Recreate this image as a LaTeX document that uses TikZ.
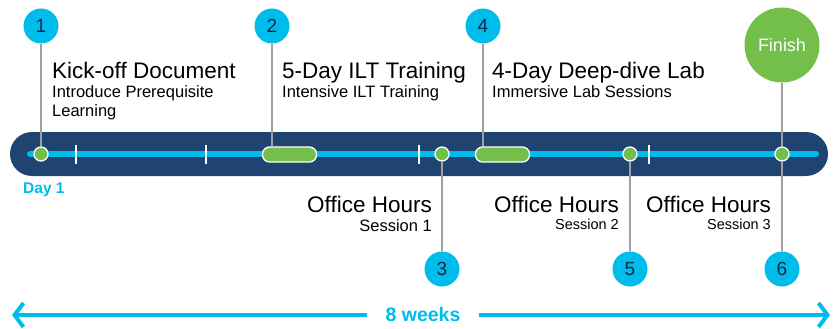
\documentclass[tikz,border=0pt]{standalone}
\usepackage{fontspec}
\setmainfont{Liberation Sans}
\usetikzlibrary{arrows.meta, positioning}
\definecolor{barnavy}{RGB}{31,68,113}
\definecolor{lightcyan}{RGB}{0,188,235}
\definecolor{okgreen}{RGB}{116,191,75}
\definecolor{numnavy}{RGB}{13,39,77}
\definecolor{linkgray}{RGB}{160,160,160}

\begin{document}
\begin{tikzpicture}[x=1pt, y=-1pt,
    num/.style={circle, fill=lightcyan, minimum size=35pt, inner sep=0pt,
        font=\fontsize{19}{19}\selectfont, text=numnavy},
    finish/.style={circle, fill=okgreen, minimum size=75pt, inner sep=0pt,
        font=\fontsize{18}{18}\selectfont, text=white},
    dot/.style={circle, fill=okgreen, draw=white, line width=1.3pt,
        minimum size=14pt, inner sep=0pt},
    pill/.style={rectangle, rounded corners=7pt, fill=okgreen, draw=white,
        line width=1.3pt, minimum width=54pt, minimum height=15pt, inner sep=0pt},
    link/.style={draw=linkgray, line width=1.4pt},
    tick/.style={draw=white, line width=1.5pt},
    title/.style={font=\fontsize{22.5}{26}\selectfont, inner sep=0pt},
    sub/.style={font=\fontsize{16.5}{20}\selectfont, inner sep=0pt},
    subsmall/.style={font=\fontsize{14.5}{16}\selectfont, inner sep=0pt},
    note/.style={font=\fontsize{15.5}{16}\selectfont\bfseries, text=lightcyan, inner sep=0pt},
    weeks/.style={draw=lightcyan, line width=4pt, -{Straight Barb[length=9pt, width=24pt]}}]

    \useasboundingbox (0,0) rectangle (833,329);

    % timeline bar
    \fill[barnavy, rounded corners=22pt] (10,132) rectangle (828,176);
    \draw[lightcyan, line width=6pt, line cap=round] (30,154) -- (816,154);
    \foreach \x in {76,206,419,649}
        \draw[tick] (\x,145) -- (\x,164);

    % milestones on the bar
    \node[dot] (d1) at (41,154) {};
    \node[pill] (p2) at (289.5,154.5) {};
    \node[dot] (d3) at (442,154) {};
    \node[pill] (p4) at (502.5,154.5) {};
    \node[dot] (d5) at (630,154) {};
    \node[dot] (d6) at (782,154) {};

    % numbered markers
    \node[num] (n1) at (41,26) {1};
    \node[num] (n2) at (272,26) {2};
    \node[num] (n4) at (483,26) {4};
    \node[finish] (fin) at (782,45) {Finish};
    \node[num] (n3) at (442,269) {3};
    \node[num] (n5) at (630,269) {5};
    \node[num] (n6) at (782,269) {6};

    \draw[link] (n1) -- (d1);
    \draw[link] (n2) -- (n2 |- p2.north);
    \draw[link] (n4) -- (n4 |- p4.north);
    \draw[link] (fin) -- (d6);
    \draw[link] (d3) -- (n3);
    \draw[link] (d5) -- (n5);
    \draw[link] (d6) -- (n6);

    % labels above
    \node[title, anchor=base west] (t1) at (52,78) {Kick-off Document};
    \node[sub, anchor=base west] (s1) at (52,97) {Introduce Prerequisite};
    \node[sub, anchor=base west] (s1b) at (52,117) {Learning};
    \node[title, anchor=base west] (t2) at (282,78) {5-Day ILT Training};
    \node[sub, anchor=base west] (s2) at (282,97) {Intensive ILT Training};
    \node[title, anchor=base west] (t4) at (492,78) {4-Day Deep-dive Lab};
    \node[sub, anchor=base west] (s4) at (492,97) {Immersive Lab Sessions};

    % labels below
    \node[note, anchor=base west] (day) at (23,193) {Day 1};
    \node[title, anchor=base east] (o3) at (432,212) {Office Hours};
    \node[sub, anchor=base east] (s3) at (432,231) {Session 1};
    \node[title, anchor=base east] (o5) at (619,212) {Office Hours};
    \node[subsmall, anchor=base east] (s5) at (619,229) {Session 2};
    \node[title, anchor=base east] (o6) at (771,212) {Office Hours};
    \node[subsmall, anchor=base east] (s6) at (771,229) {Session 3};

    % duration
    \node[font=\fontsize{19.5}{20}\selectfont\bfseries, text=lightcyan,
        inner xsep=18pt, inner ysep=2pt] (wk) at (423,315) {8 weeks};
    \coordinate (lft) at (12,315);
    \coordinate (rgt) at (830,315);
    \draw[weeks] (wk.west) -- (lft);
    \draw[weeks] (wk.east) -- (rgt);
\end{tikzpicture}
\end{document}
